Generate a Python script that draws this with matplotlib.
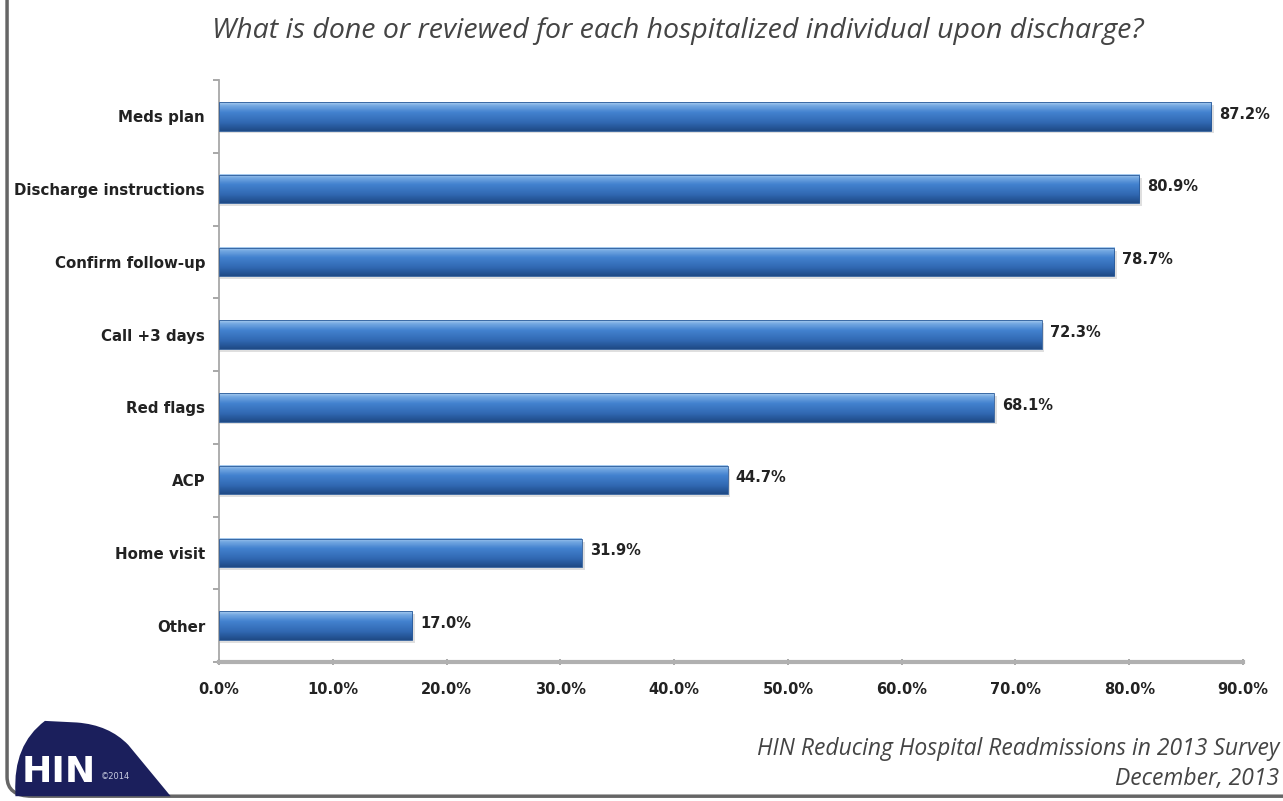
import matplotlib.pyplot as plt
import numpy as np
from matplotlib.colors import LinearSegmentedColormap
from matplotlib.patches import PathPatch, Rectangle
from matplotlib.path import Path

categories = ["Meds plan", "Discharge instructions", "Confirm follow-up", "Call +3 days",
              "Red flags", "ACP", "Home visit", "Other"]
values = [87.2, 80.9, 78.7, 72.3, 68.1, 44.7, 31.9, 17.0]
xticks = [0, 10, 20, 30, 40, 50, 60, 70, 80, 90]

title = "What is done or reviewed for each hospitalized individual upon discharge?"
source = "HIN Reducing Hospital Readmissions in 2013 Survey\nDecember, 2013"

narrow = ["Liberation Sans Narrow", "DejaVu Sans"]
italic_font = ["Open Sans", "DejaVu Sans"]

fig = plt.figure(figsize=(12.83, 8.01), dpi=100)
fig.patch.set_facecolor("white")
ax = fig.add_axes([0.1707, 0.1735, 0.7981, 0.7266])

# vertical gradient for the bars: light top edge, mid blue, dark bottom
bar_cmap = LinearSegmentedColormap.from_list(
    "bar", [(0.0, "#a9cdf0"), (0.12, "#74a8e2"), (0.35, "#4382cf"),
            (0.7, "#3169b3"), (1.0, "#1f4a86")])
grad = np.linspace(0, 1, 64).reshape(-1, 1)

h = 0.39
y = np.arange(len(categories))
for yi, v in zip(y, values):
    # soft shadow below each bar
    ax.add_patch(Rectangle((0, yi - h / 2 + 0.04), v + 0.25, h, facecolor="#b8b8b8",
                           edgecolor="none", alpha=0.45, zorder=1))
    ax.imshow(grad, cmap=bar_cmap, aspect="auto", extent=(0, v, yi + h / 2, yi - h / 2),
              zorder=2, interpolation="bilinear")
    ax.add_patch(Rectangle((0, yi - h / 2), v, h, facecolor="none",
                           edgecolor="#2a5a99", linewidth=0.6, zorder=3))
    ax.text(v + 0.7, yi - 0.03, f"{v:.1f}%", va="center", ha="left", fontsize=10.5,
            fontweight="bold", family=narrow, color="#222222")

ax.set_xlim(0, 90)
ax.set_ylim(len(categories) - 0.5, -0.5)
ax.set_xticks(xticks)
ax.set_xticklabels([f"{t:.1f}%" for t in xticks], family=narrow, fontweight="bold",
                   fontsize=10.5, color="#222222")
ax.set_yticks(y)
ax.set_yticklabels(categories, family=narrow, fontweight="bold", fontsize=10.8,
                   color="#222222")
ax.set_yticks(np.arange(-0.5, len(categories), 1), minor=True)
ax.tick_params(axis="y", which="major", length=0, pad=10)
ax.tick_params(axis="y", which="minor", length=4, color="#999999", width=1.2)
ax.tick_params(axis="x", which="major", length=5, color="#999999", width=1.2, pad=12,
               direction="inout")
for side in ["top", "right"]:
    ax.spines[side].set_visible(False)
ax.spines["left"].set_color("#a8a8a8")
ax.spines["left"].set_linewidth(1.3)
ax.spines["bottom"].set_color("#b0b0b0")
ax.spines["bottom"].set_linewidth(3)

fig.text(0.5285, 0.961, title, ha="center", va="center", fontsize=20.5, style="italic",
         family=italic_font, color="#444444")
fig.text(0.997, 0.046, source, ha="right", va="center", fontsize=16.5, style="italic",
         family=italic_font, color="#444444", linespacing=1.3)

# outer frame with rounded bottom-left corner
frame = Path([(0.0055, 1.0), (0.0055, 0.03), (0.0055, 0.006), (0.025, 0.006), (1.0, 0.006)],
             [Path.MOVETO, Path.LINETO, Path.CURVE3, Path.CURVE3, Path.LINETO])
fig.add_artist(PathPatch(frame, transform=fig.transFigure, facecolor="none",
                         edgecolor="#666666", linewidth=2.5))

# logo swoosh
logo = Path([(0.012, 0.01), (0.010, 0.07), (0.035, 0.10), (0.06, 0.098),
             (0.085, 0.095), (0.10, 0.07), (0.133, 0.006), (0.012, 0.006), (0.012, 0.01)],
            [Path.MOVETO, Path.CURVE3, Path.CURVE3, Path.LINETO, Path.CURVE3, Path.CURVE3,
             Path.LINETO, Path.LINETO, Path.CLOSEPOLY])
fig.add_artist(PathPatch(logo, transform=fig.transFigure, facecolor="#1b1f5c",
                         edgecolor="none"))
fig.text(0.0165, 0.036, "HIN", ha="left", va="center", fontsize=26, fontweight="heavy",
         family=["DejaVu Sans"], color="white")
fig.text(0.0785, 0.031, "©2014", ha="left", va="center", fontsize=6,
         family=["DejaVu Sans"], color="#c8cce0")

fig.savefig("out.png", dpi=100, facecolor="white")
